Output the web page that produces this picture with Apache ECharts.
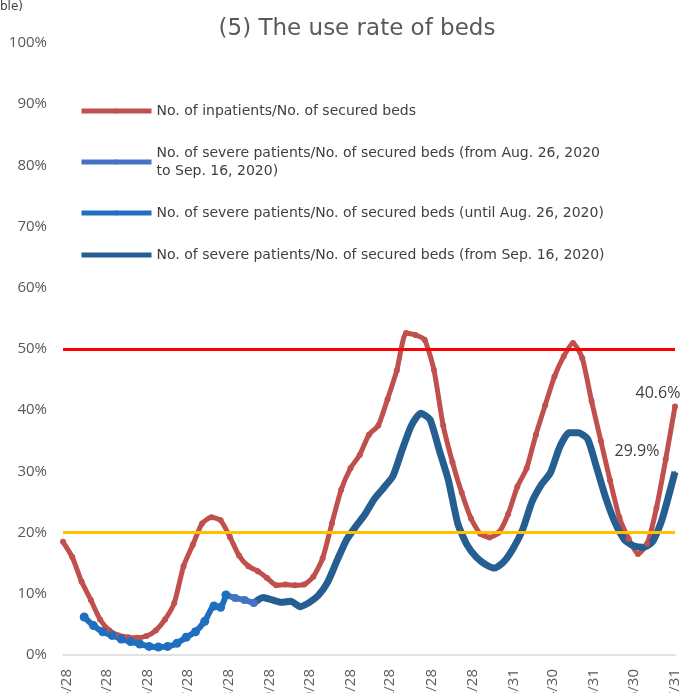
<!DOCTYPE html>
<html>
<head>
<meta charset="utf-8">
<script src="https://cdn.jsdelivr.net/npm/echarts@6/dist/echarts.min.js"></script>
<style>
  html, body { margin: 0; padding: 0; background: #fff; }
  #chart { width: 687px; height: 693px; }
</style>
</head>
<body>
<div id="chart"></div>
<script>
// weekly readings (%), each series starts on its own date
var inpatientStart = '2020/4/25';
var inpatientRate = [18.5, 16, 12, 9, 5.8, 4.0, 3.2, 2.9, 2.8, 3.1, 4.0, 5.8, 8.5, 14.5, 18, 21.5, 22.5, 22, 19.3, 16.2,
  14.5, 13.7, 12.6, 11.4, 11.5, 11.4, 11.5, 12.8, 15.8, 21.5, 27, 30.5, 32.7, 36, 37.5, 41.8, 46.5, 52.6, 52.3, 51.5,
  46.6, 37.5, 31.5, 26.5, 22.3, 19.8, 19.2, 20, 23, 27.5, 30.5, 36, 40.8, 45.5, 48.8, 51, 48.5, 41.5, 35, 28.5,
  22.5, 19, 16.5, 18.2, 24, 32, 40.6];

var severeEarlyStart = '2020/5/11';
var severeEarlyRate = [6.2, 4.8, 3.8, 3.2, 2.6, 2.2, 1.8, 1.4, 1.3, 1.4, 1.9, 2.9, 3.8, 5.5, 8];
var severeEarlyTail = [['2020/8/22', 7.8], ['2020/8/26', 9.8]];

var severeMidStart = '2020/8/26';
var severeMidRate = [9.8, 9.3, 9.0, 8.5];

var severeLateStart = '2020/9/16';
var severeLateRate = [8.5, 9.4, 9.0, 8.6, 8.8, 7.9, 8.6, 9.8, 12, 15.5, 18.8, 21, 23, 25.5, 27.3, 29.2, 33.5, 37.5, 39.5, 38.5,
  33.5, 28.5, 21.5, 18, 16, 14.8, 14.2, 15.3, 17.5, 20.5, 25, 27.8, 29.8, 34, 36.3, 36.3, 35.3, 30.5, 25.5, 21.5,
  18.8, 17.8, 17.6, 18.5, 22];
var severeLateTail = [['2021/7/31', 29.9]];

var tickDates = ['2020/4/28', '2020/5/28', '2020/6/28', '2020/7/28', '2020/8/28', '2020/9/28', '2020/10/28', '2020/11/28',
  '2020/12/28', '2021/1/28', '2021/2/28', '2021/3/31', '2021/4/30', '2021/5/31', '2021/6/30', '2021/7/31'];

var seriesNames = [
  'No. of inpatients/No. of secured beds',
  'No. of severe patients/No. of secured beds (from Aug. 26, 2020\nto Sep. 16, 2020)',
  'No. of severe patients/No. of secured beds (until Aug. 26, 2020)',
  'No. of severe patients/No. of secured beds (from Sep. 16, 2020)'
];

// x axis counts days from the first day of the chart
var DAY = 86400000;
function toTime(s) {
  var p = s.split('/');
  return Date.UTC(+p[0], +p[1] - 1, +p[2]);
}
var base = toTime('2020/4/25');
function dayNo(s) { return Math.round((toTime(s) - base) / DAY); }
function weekly(start, values) {
  var d0 = dayNo(start);
  return values.map(function (v, i) { return [d0 + i * 7, v]; });
}
function pairs(list) {
  return list.map(function (d) { return [dayNo(d[0]), d[1]]; });
}
function dayLabel(n) {
  var d = new Date(base + n * DAY);
  return d.getUTCFullYear() + '/' + (d.getUTCMonth() + 1) + '/' + d.getUTCDate();
}

var valueLabel = { color: '#404040', fontSize: 16, fontFamily: 'Open Sans' };

var redData = weekly(inpatientStart, inpatientRate);
var last = redData[redData.length - 1];
redData[redData.length - 1] = {
  value: last,
  label: Object.assign({ show: true, position: 'top', distance: 2, offset: [-17, 0], formatter: '40.6%' }, valueLabel)
};

var lateData = weekly(severeLateStart, severeLateRate).concat(pairs(severeLateTail));
var lastB = lateData[lateData.length - 1];
lateData[lateData.length - 1] = {
  value: lastB,
  symbol: 'circle',
  symbolSize: 2,
  label: Object.assign({ show: true, position: 'top', distance: 2, offset: [-38, -10], formatter: '29.9%' }, valueLabel)
};

var myChart = echarts.init(document.getElementById('chart'));
var option = {
  animation: false,
  backgroundColor: '#fff',
  title: {
    text: '(5) The use rate of beds',
    left: 357,
    top: 18,
    textAlign: 'center',
    padding: 0,
    textStyle: { fontSize: 23, fontWeight: 'normal', color: '#595959', fontFamily: 'DejaVu Sans' }
  },
  graphic: [{
    type: 'text', left: 0, top: 1,
    style: { text: 'ble)', fontSize: 12, fill: '#404040', fontFamily: 'DejaVu Sans' }
  }],
  legend: {
    orient: 'vertical',
    left: 79,
    top: 102,
    itemWidth: 70,
    itemHeight: 6,
    itemGap: 24,
    padding: 0,
    lineStyle: { width: 5 },
    data: [
      seriesNames[0],
      seriesNames[1],
      seriesNames[2],
      { name: seriesNames[3], itemStyle: { opacity: 0 } }
    ],
    textStyle: { fontSize: 14, color: '#404040', lineHeight: 18, fontFamily: 'DejaVu Sans' }
  },
  grid: { left: 63, right: 12, top: 43, bottom: 38, outerBoundsMode: 'none' },
  xAxis: {
    type: 'value',
    min: 0,
    max: dayNo('2021/7/31'),
    splitLine: { show: false },
    axisLine: { onZero: false, lineStyle: { color: '#D9D9D9', width: 1.5 } },
    axisTick: { show: false },
    axisLabel: {
      rotate: 90,
      margin: 14,
      color: '#595959',
      fontSize: 15,
      fontFamily: 'Open Sans',
      customValues: tickDates.map(dayNo),
      formatter: dayLabel
    }
  },
  yAxis: {
    type: 'value',
    min: 0,
    max: 100,
    interval: 10,
    splitLine: { show: false },
    axisLine: { show: false },
    axisTick: { show: false },
    axisLabel: { formatter: '{value}%', color: '#595959', fontSize: 15, margin: 16, fontFamily: 'Open Sans' }
  },
  series: [
    {
      name: seriesNames[0],
      type: 'line',
      data: redData,
      smooth: 0.2,
      symbol: 'circle',
      symbolSize: 6,
      color: '#C0504D',
      lineStyle: { width: 5, color: '#C0504D' },
      markLine: {
        silent: true,
        symbol: 'none',
        label: { show: false },
        data: [
          { yAxis: 50, lineStyle: { color: '#FF0000', width: 3, type: 'solid' } },
          { yAxis: 20, lineStyle: { color: '#FFC000', width: 3, type: 'solid' } }
        ]
      }
    },
    {
      name: seriesNames[1],
      type: 'line',
      data: weekly(severeMidStart, severeMidRate),
      symbol: 'circle',
      symbolSize: 8,
      color: '#2E5E9A',
      itemStyle: { color: '#4472C4' },
      lineStyle: { width: 6, color: '#4472C4' }
    },
    {
      name: seriesNames[2],
      type: 'line',
      data: weekly(severeEarlyStart, severeEarlyRate).concat(pairs(severeEarlyTail)),
      smooth: 0.2,
      symbol: 'circle',
      symbolSize: 9,
      color: '#24588F',
      itemStyle: { color: '#1F6FC0' },
      lineStyle: { width: 6, color: '#1F6FC0' }
    },
    {
      name: seriesNames[3],
      type: 'line',
      data: lateData,
      smooth: 0.2,
      symbol: 'none',
      color: '#255E91',
      itemStyle: { color: '#255E91' },
      lineStyle: { width: 7, color: '#255E91' }
    }
  ]
};
myChart.setOption(option);
</script>
</body>
</html>
